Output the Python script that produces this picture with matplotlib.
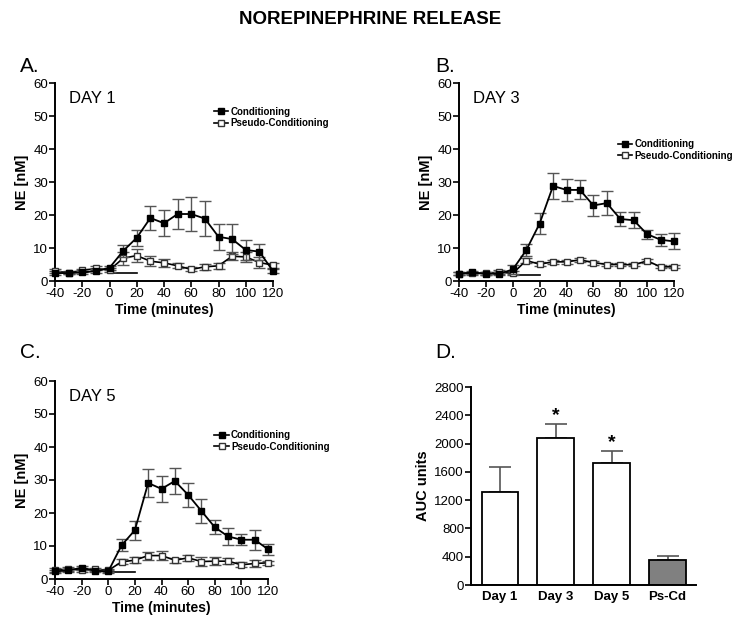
import matplotlib
matplotlib.use('Agg')
import matplotlib.pyplot as plt
from matplotlib.lines import Line2D
import numpy as np

plt.rcParams['font.family'] = ['Liberation Sans', 'DejaVu Sans']
plt.rcParams['axes.unicode_minus'] = False

# sampling times (minutes)
time = [-40, -30, -20, -10, 0, 10, 20, 30, 40, 50, 60, 70, 80, 90, 100, 110, 120]

# Day 1
d1_cond = [2.4, 2.4, 2.6, 3.0, 4.0, 9.1, 13.1, 19.1, 17.5, 20.3, 20.3, 18.9, 13.4, 12.7, 9.4, 8.9, 3.0]
d1_cond_err = [0.5, 0.4, 0.5, 0.5, 0.6, 1.8, 2.5, 3.5, 3.9, 4.4, 5.2, 5.3, 4.0, 4.5, 3.1, 2.4, 0.5]
d1_pseudo = [3.0, 2.5, 3.2, 3.8, 3.3, 6.9, 7.7, 6.0, 5.5, 4.6, 3.5, 4.3, 4.6, 7.5, 7.3, 5.6, 4.8]
d1_pseudo_err = [0.6, 0.4, 0.5, 0.6, 0.6, 2.0, 2.0, 1.5, 1.3, 0.8, 0.6, 1.0, 1.0, 1.2, 1.5, 1.6, 0.8]

# Day 3
d3_cond = [2.2, 2.6, 2.2, 2.2, 3.5, 9.3, 17.4, 28.8, 27.6, 27.6, 22.9, 23.6, 18.8, 18.4, 14.2, 12.5, 12.0]
d3_cond_err = [0.5, 0.5, 0.4, 0.5, 1.5, 1.8, 3.2, 3.9, 3.3, 2.9, 3.3, 3.6, 2.1, 2.4, 1.4, 1.8, 2.4]
d3_pseudo = [2.2, 2.3, 2.3, 2.7, 2.3, 6.2, 5.1, 5.8, 5.8, 6.4, 5.6, 5.0, 5.0, 4.9, 6.1, 4.3, 4.3]
d3_pseudo_err = [0.4, 0.4, 0.4, 0.5, 0.6, 0.8, 0.7, 0.6, 0.6, 0.7, 0.6, 0.5, 0.5, 0.5, 0.7, 0.5, 0.5]

# Day 5
d5_cond = [2.3, 2.6, 3.4, 2.5, 2.3, 10.2, 14.8, 29.1, 27.3, 29.7, 25.5, 20.6, 15.7, 12.9, 11.9, 11.9, 9.0]
d5_cond_err = [0.5, 0.5, 0.6, 0.5, 0.5, 1.8, 2.9, 4.3, 3.9, 4.0, 3.7, 3.7, 2.1, 2.7, 1.7, 3.0, 1.6]
d5_pseudo = [2.7, 3.0, 2.7, 2.9, 2.6, 5.2, 5.7, 7.1, 7.1, 5.7, 6.4, 5.3, 5.4, 5.4, 4.3, 4.7, 4.9]
d5_pseudo_err = [0.5, 0.5, 0.5, 0.5, 0.5, 0.8, 1.0, 1.2, 1.3, 0.8, 0.8, 1.3, 1.3, 1.0, 0.8, 1.0, 0.6]

# stimulus bar (0-20 min)
stim_x = [0, 20]
stim_level = {'A': 2.5, 'B': 1.8, 'C': 2.0}

# AUC panel
auc_labels = ['Day 1', 'Day 3', 'Day 5', 'Ps-Cd']
auc_vals = [1320, 2080, 1720, 360]
auc_err = [350, 190, 170, 45]
auc_sig = [False, True, True, False]

W, H = 740, 627
fig = plt.figure(figsize=(W / 100, H / 100), dpi=100)


def px(x, y):
    return x / W, 1 - y / H


def style_axes(ax):
    for s in ['top', 'right']:
        ax.spines[s].set_visible(False)
    for s in ['left', 'bottom']:
        ax.spines[s].set_linewidth(1.4)
    ax.tick_params(direction='out', length=4, width=1.2, labelsize=9.5, pad=1)


def time_panel(rect, cond, cond_err, pseudo, pseudo_err, day, stim, leg_pos):
    ax = fig.add_axes(rect)
    ax.errorbar(time, pseudo, yerr=pseudo_err, color='black', ecolor='#555555',
                elinewidth=1, capsize=4, capthick=1, lw=1.2, marker='s', ms=4.6,
                mfc='white', mec='#333333', mew=1, clip_on=False, zorder=3)
    ax.errorbar(time, cond, yerr=cond_err, color='black', ecolor='#555555',
                elinewidth=1, capsize=4, capthick=1, lw=1.3, marker='s', ms=4.8,
                mfc='black', mec='black', clip_on=False, zorder=4)
    ax.plot(stim_x, [stim, stim], color='black', lw=1.2, zorder=2)
    ax.set_xlim(-40, 120)
    ax.set_ylim(0, 60)
    ax.set_xticks(range(-40, 121, 20))
    ax.set_yticks(range(0, 61, 10))
    ax.set_xlabel('Time (minutes)', fontsize=10, fontweight='bold', labelpad=2)
    ax.set_ylabel('NE [nM]', fontsize=10.5, fontweight='bold', labelpad=3)
    style_axes(ax)
    ax.text(0.065, 0.92, day, transform=ax.transAxes, fontsize=12, va='center')
    handles = [
        Line2D([], [], color='black', lw=1.2, marker='s', ms=5, mfc='black', mec='black'),
        Line2D([], [], color='black', lw=1.2, marker='s', ms=5, mfc='white', mec='#333333'),
    ]
    ax.legend(handles, ['Conditioning', 'Pseudo-Conditioning'], loc='upper left',
              bbox_to_anchor=leg_pos, frameon=False,
              prop={'size': 7, 'weight': 'bold'}, handlelength=1.5,
              handletextpad=0.2, borderaxespad=0, labelspacing=0.15)
    return ax


time_panel([55 / W, 1 - 281 / H, 218 / W, 198 / H], d1_cond, d1_cond_err,
           d1_pseudo, d1_pseudo_err, 'DAY 1', stim_level['A'], (0.71, 0.9))
time_panel([459 / W, 1 - 281 / H, 215 / W, 198 / H], d3_cond, d3_cond_err,
           d3_pseudo, d3_pseudo_err, 'DAY 3', stim_level['B'], (0.72, 0.735))
time_panel([55 / W, 1 - 579 / H, 213 / W, 198 / H], d5_cond, d5_cond_err,
           d5_pseudo, d5_pseudo_err, 'DAY 5', stim_level['C'], (0.73, 0.77))

# panel D
axd = fig.add_axes([471 / W, 1 - 585 / H, 225 / W, 198 / H])
xpos = np.arange(len(auc_labels))
axd.bar(xpos, auc_vals, width=0.66, color=['white', 'white', 'white', '#808080'],
        edgecolor='black', linewidth=1.3, zorder=2)
axd.errorbar(xpos, auc_vals, yerr=[np.zeros(len(auc_vals)), auc_err], fmt='none',
             ecolor='#555555', elinewidth=1.2, capsize=8, capthick=1.2, zorder=1)
for x, v, e, s in zip(xpos, auc_vals, auc_err, auc_sig):
    if s:
        axd.text(x, v + e + 10, '*', ha='center', va='bottom', fontsize=14,
                 fontweight='bold')
axd.set_xlim(-0.52, 3.51)
axd.set_ylim(0, 2800)
axd.set_yticks(range(0, 2801, 400))
axd.set_xticks(xpos)
axd.set_xticklabels(auc_labels, fontsize=9, fontweight='bold')
axd.set_ylabel('AUC units', fontsize=10.5, fontweight='bold', labelpad=3)
style_axes(axd)
axd.tick_params(axis='x', length=0, pad=4)

fig.text(*px(370, 20), 'NOREPINEPHRINE RELEASE', ha='center', va='center',
         fontsize=13.5, fontweight='bold')
for lab, (x, y) in {'A.': (20, 66), 'B.': (435, 66), 'C.': (20, 352), 'D.': (435, 352)}.items():
    fig.text(*px(x, y), lab, ha='left', va='center', fontsize=15)

fig.savefig('out.png', dpi=100)
